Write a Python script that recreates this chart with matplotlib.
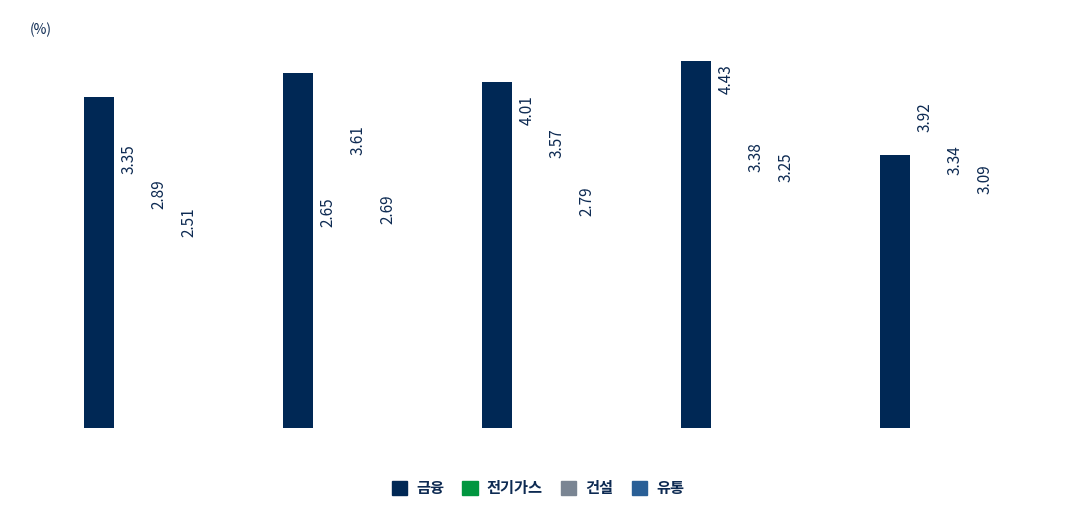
import matplotlib
matplotlib.use("Agg")
import matplotlib.pyplot as plt
import numpy as np
from matplotlib.patches import Patch

plt.rcParams['font.family'] = ['Noto Sans CJK KR', 'DejaVu Sans']

groups = ["1", "2", "3", "4", "5"]
series = ["금융", "전기가스", "건설", "유통"]
colors = ["#002855", "#00963f", "#7a8593", "#2a5f96"]
finance = [4.41, 4.73, 4.61, 4.89, 3.64]
elec = [3.35, 2.65, 4.01, 4.43, 3.92]
constr = [2.89, 3.61, 3.57, 3.38, 3.34]
retail = [2.51, 2.69, 2.79, 3.25, 3.09]

fig = plt.figure(figsize=(10.76, 5.24), dpi=100)
ax = fig.add_axes([44.5/1076, 1-428/524, 995/1076, 375/524])
x = np.arange(len(groups))
w = 0.15
ax.bar(x - 1.5*w, finance, w, color=colors[0])
for i, vals in enumerate([elec, constr, retail], start=1):
    for xi, v in zip(x, vals):
        ax.annotate(f"{v:.2f}", (xi + (i-1.5)*w, v), xytext=(0, 32),
                    textcoords="offset pixels", rotation=90, ha="center", va="top",
                    fontsize=11, color="#0d2a52")
ax.set_xlim(-0.5, 4.5)
ax.set_ylim(0, 5)
ax.axis("off")
fig.text(30/1076, 1-30/524, "(%)", fontsize=10, color="#0d2a52", va="center")
handles = [Patch(color=c) for c in colors]
leg = fig.legend(handles, series, loc="center", bbox_to_anchor=(0.5, 1-488/524), ncol=4,
                 frameon=False, handlelength=1.0, handleheight=1.0, columnspacing=1.2,
                 handletextpad=0.6, prop={'weight': 'bold', 'size': 11})
for t in leg.get_texts():
    t.set_color("#0d2a52")
fig.savefig("out.png", dpi=100)
